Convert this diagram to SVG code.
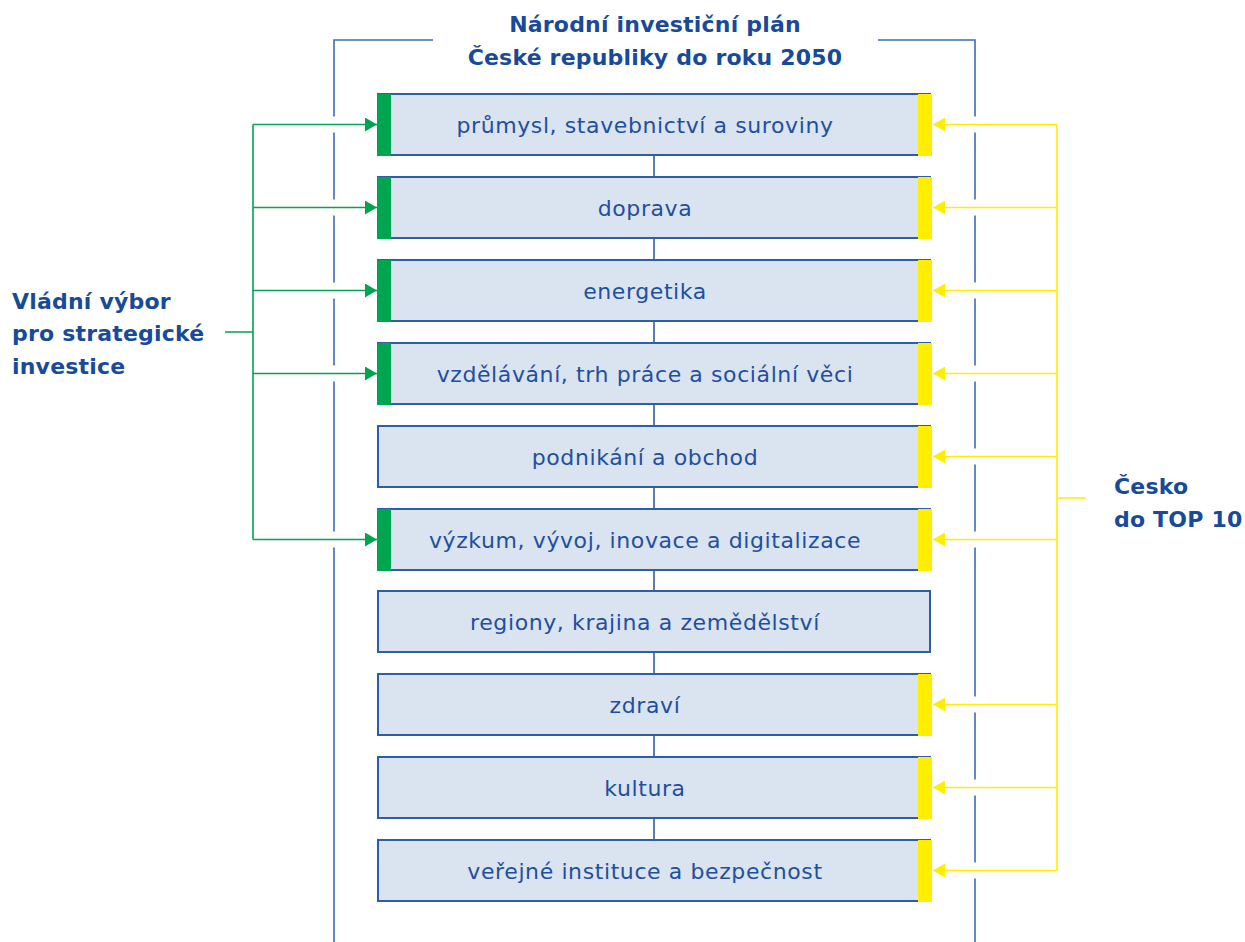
<svg xmlns="http://www.w3.org/2000/svg" width="1245" height="942" viewBox="0 0 1245 942">
<style>
.box{fill:#dae3f0;stroke:#2f5ea8;stroke-width:2}
.t{font-family:"DejaVu Sans","Open Sans",sans-serif;font-size:22px;letter-spacing:0.6px;fill:#1f4f9f;text-anchor:middle}
.h{font-family:"DejaVu Sans","Open Sans",sans-serif;font-size:22px;letter-spacing:0.2px;font-weight:bold;fill:#184a9a}
.g{fill:#00a64f}
.y{fill:#ffee00}
.gl{stroke:#00a64f;stroke-width:1.6;fill:none}
.yl{stroke:#ffee00;stroke-width:1.6;fill:none}
.bl{stroke:#3a6cbd;stroke-width:1.6;fill:none}
.cn{stroke:#2f5ea8;stroke-width:1.6;fill:none}
</style>
<defs>
<marker id="ag" markerWidth="12" markerHeight="14" refX="12" refY="7" orient="auto" markerUnits="userSpaceOnUse"><path d="M0,0 L12,7 L0,14 Z" fill="#00a64f"/></marker>
<marker id="ay" markerWidth="12" markerHeight="14" refX="12" refY="7" orient="auto" markerUnits="userSpaceOnUse"><path d="M0,0 L12,7 L0,14 Z" fill="#ffee00"/></marker>
</defs>
<rect width="1245" height="942" fill="#ffffff"/>
<g id="frame">
<path class="bl" d="M433,40 H334 V116.5 M334,132.5 V199.5 M334,215.5 V282.5 M334,298.5 V365.5 M334,381.5 V531.5 M334,547.5 V942"/>
<path class="bl" d="M878,40 H975 V116.5 M975,132.5 V199.5 M975,215.5 V282.5 M975,298.5 V365.5 M975,381.5 V448.5 M975,464.5 V531.5 M975,547.5 V696.5 M975,712.5 V779.5 M975,795.5 V862.5 M975,878.5 V942"/>
<text class="h" x="655" y="32" text-anchor="middle">Národní investiční plán</text>
<text class="h" x="655" y="65" text-anchor="middle">České republiky do roku 2050</text>
</g>
<g id="connectors">
<path class="cn" d="M654,155 V177 M654,238 V260 M654,321 V343 M654,404 V426 M654,487 V509 M654,570 V591 M654,652 V674 M654,735 V757 M654,818 V840"/>
<path class="gl" d="M253,124.5 V539.5 M225,332 H253"/>
<path class="gl" marker-end="url(#ag)" d="M253,124.5 H377"/>
<path class="gl" marker-end="url(#ag)" d="M253,207.5 H377"/>
<path class="gl" marker-end="url(#ag)" d="M253,290.5 H377"/>
<path class="gl" marker-end="url(#ag)" d="M253,373.5 H377"/>
<path class="gl" marker-end="url(#ag)" d="M253,539.5 H377"/>
<path class="yl" d="M1057,124.5 V870.5 M1057,498 H1086"/>
<path class="yl" marker-end="url(#ay)" d="M1057,124.5 H933"/>
<path class="yl" marker-end="url(#ay)" d="M1057,207.5 H933"/>
<path class="yl" marker-end="url(#ay)" d="M1057,290.5 H933"/>
<path class="yl" marker-end="url(#ay)" d="M1057,373.5 H933"/>
<path class="yl" marker-end="url(#ay)" d="M1057,456.5 H933"/>
<path class="yl" marker-end="url(#ay)" d="M1057,539.5 H933"/>
<path class="yl" marker-end="url(#ay)" d="M1057,704.5 H933"/>
<path class="yl" marker-end="url(#ay)" d="M1057,787.5 H933"/>
<path class="yl" marker-end="url(#ay)" d="M1057,870.5 H933"/>
</g>
<g id="n1"><rect class="box" x="378" y="94" width="552" height="61"/><rect class="g" x="377" y="94" width="14" height="62"/><rect class="y" x="918" y="94" width="14" height="62"/><text class="t" x="645" y="133">průmysl, stavebnictví a suroviny</text></g>
<g id="n2"><rect class="box" x="378" y="177" width="552" height="61"/><rect class="g" x="377" y="177" width="14" height="62"/><rect class="y" x="918" y="177" width="14" height="62"/><text class="t" x="645" y="216">doprava</text></g>
<g id="n3"><rect class="box" x="378" y="260" width="552" height="61"/><rect class="g" x="377" y="260" width="14" height="62"/><rect class="y" x="918" y="260" width="14" height="62"/><text class="t" x="645" y="299">energetika</text></g>
<g id="n4"><rect class="box" x="378" y="343" width="552" height="61"/><rect class="g" x="377" y="343" width="14" height="62"/><rect class="y" x="918" y="343" width="14" height="62"/><text class="t" x="645" y="382">vzdělávání, trh práce a sociální věci</text></g>
<g id="n5"><rect class="box" x="378" y="426" width="552" height="61"/><rect class="y" x="918" y="426" width="14" height="62"/><text class="t" x="645" y="465">podnikání a obchod</text></g>
<g id="n6"><rect class="box" x="378" y="509" width="552" height="61"/><rect class="g" x="377" y="509" width="14" height="62"/><rect class="y" x="918" y="509" width="14" height="62"/><text class="t" x="645" y="548">výzkum, vývoj, inovace a digitalizace</text></g>
<g id="n7"><rect class="box" x="378" y="591" width="552" height="61"/><text class="t" x="645" y="630">regiony, krajina a zemědělství</text></g>
<g id="n8"><rect class="box" x="378" y="674" width="552" height="61"/><rect class="y" x="918" y="674" width="14" height="62"/><text class="t" x="645" y="713">zdraví</text></g>
<g id="n9"><rect class="box" x="378" y="757" width="552" height="61"/><rect class="y" x="918" y="757" width="14" height="62"/><text class="t" x="645" y="796">kultura</text></g>
<g id="n10"><rect class="box" x="378" y="840" width="552" height="61"/><rect class="y" x="918" y="840" width="14" height="62"/><text class="t" x="645" y="879">veřejné instituce a bezpečnost</text></g>
<g id="left-label"><text class="h" x="12" y="309">Vládní výbor</text><text class="h" x="12" y="341">pro strategické</text><text class="h" x="12" y="374">investice</text></g>
<g id="right-label"><text class="h" x="1114" y="494" letter-spacing="0">Česko</text><text class="h" x="1114" y="527" letter-spacing="0">do TOP 10</text></g>
</svg>
